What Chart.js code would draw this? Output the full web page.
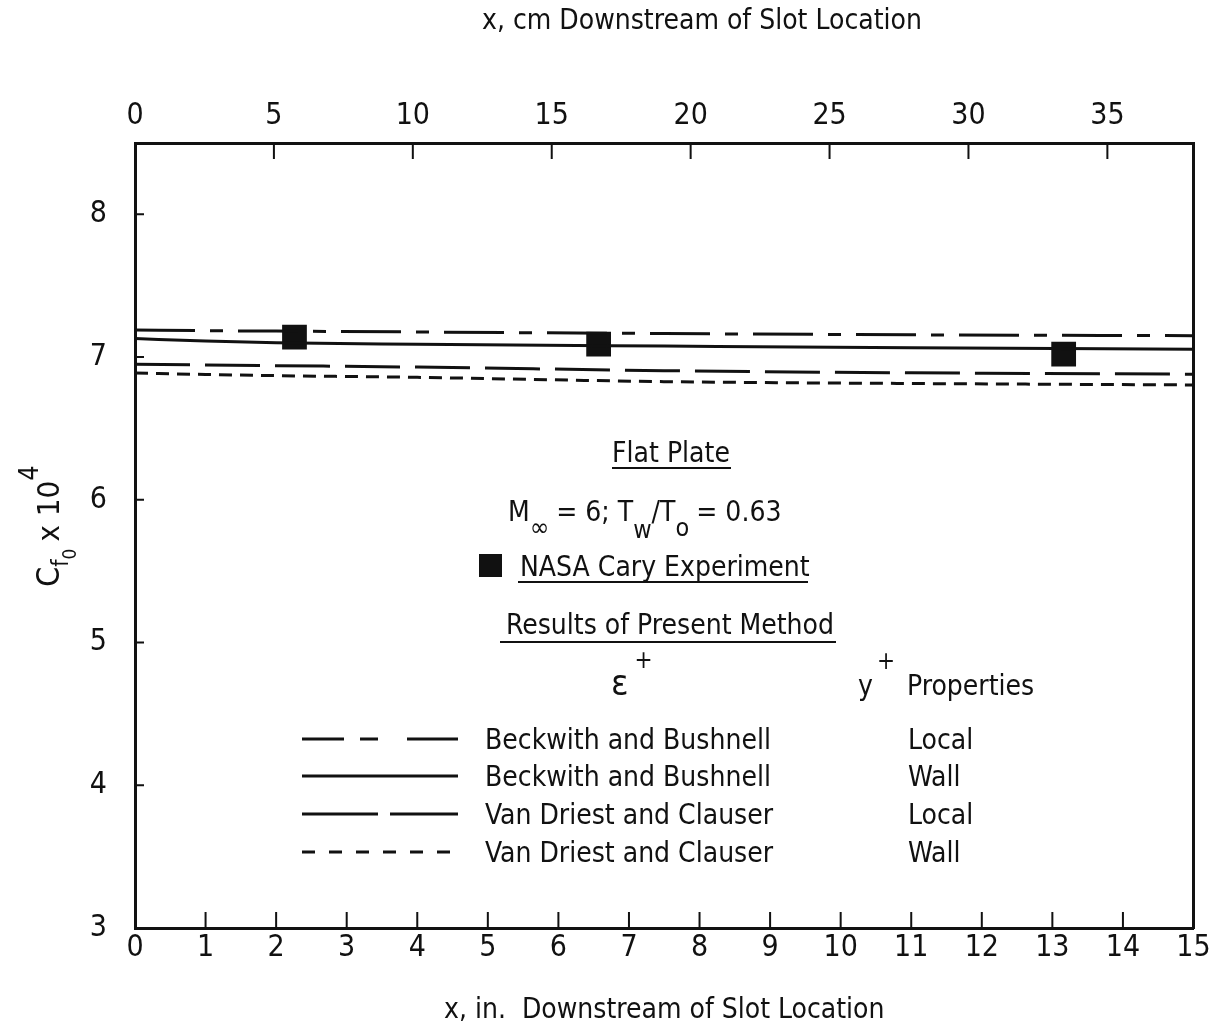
<!DOCTYPE html>
<html>
<head>
<meta charset="utf-8">
<title>Skin friction downstream of slot</title>
<script src="https://cdn.jsdelivr.net/npm/chart.js@4/dist/chart.umd.min.js"></script>
<style>
  html, body { margin: 0; padding: 0; background: #fff; }
  #c { display: block; }
</style>
</head>
<body>
<canvas id="c" width="1211" height="1035"></canvas>
<script>
// Stations along the plate (inches downstream of the slot) used by the computed curves
const xStations = [0, 1, 2, 4, 7.5, 11, 15];

// Cf0 x 10^4 for each computation
const bbLocal = [7.19, 7.185, 7.182, 7.176, 7.165, 7.156, 7.15];   // Beckwith & Bushnell, local properties
const bbWall  = [7.13, 7.112, 7.10, 7.09, 7.077, 7.065, 7.055];    // Beckwith & Bushnell, wall properties
const vdLocal = [6.95, 6.945, 6.94, 6.93, 6.905, 6.89, 6.88];      // Van Driest & Clauser, local properties
const vdWall  = [6.888, 6.878, 6.87, 6.858, 6.828, 6.815, 6.805];  // Van Driest & Clauser, wall properties

// NASA Cary experiment
const caryX  = [2.26, 6.57, 13.16];
const caryCf = [7.14, 7.09, 7.02];

// Axis ticks
const inchTicks = [0, 1, 2, 3, 4, 5, 6, 7, 8, 9, 10, 11, 12, 13, 14, 15];
const cmTicks   = [0, 5, 10, 15, 20, 25, 30, 35];
const cfTicks   = [3, 4, 5, 6, 7, 8];

// Key table rows
const epsModels = ['Beckwith and Bushnell', 'Beckwith and Bushnell', 'Van Driest and Clauser', 'Van Driest and Clauser'];
const yPlusProps = ['Local', 'Wall', 'Local', 'Wall'];

const INK = '#111111';
const FONT = '"Liberation Sans Narrow", "DejaVu Sans Condensed", "Roboto Condensed", sans-serif';
const CM_PER_IN = 2.54;
const TXT = 28;

const curveDash = [
  [60, 15, 13, 15],
  [],
  [55, 15],
  [13, 8]
];
const keyDash = [
  [42, 16, 18, 29, 60],
  [],
  [76, 12, 80],
  [13, 14]
];

const pts = (xs, ys) => xs.map((x, i) => ({ x, y: ys[i] }));
const curve = (label, ys, dash) => ({
  label,
  data: pts(xStations, ys),
  showLine: true,
  borderColor: INK,
  borderWidth: 3,
  borderDash: dash,
  pointRadius: 0,
  fill: false,
  cubicInterpolationMode: 'monotone',
  xAxisID: 'x',
  yAxisID: 'y'
});

const fixedTicks = (vals) => (scale) => { scale.ticks = vals.map(v => ({ value: v })); };
const noOverhang = (s) => { s.paddingLeft = 0; s.paddingRight = 0; s.paddingTop = 0; s.paddingBottom = 0; };

// Tick marks drawn on the inside of the frame
const innerTicks = {
  id: 'innerTicks',
  afterDraw(chart) {
    const { ctx, chartArea: a, scales } = chart;
    ctx.save();
    ctx.strokeStyle = INK;
    ctx.lineWidth = 2;
    ctx.beginPath();
    inchTicks.slice(1, -1).forEach(v => {
      const px = scales.x.getPixelForValue(v);
      ctx.moveTo(px, a.bottom); ctx.lineTo(px, a.bottom - 16);
    });
    cmTicks.slice(1).forEach(v => {
      const px = scales.x2.getPixelForValue(v);
      ctx.moveTo(px, a.top); ctx.lineTo(px, a.top + 16);
    });
    cfTicks.slice(1).forEach(v => {
      const py = scales.y.getPixelForValue(v);
      ctx.moveTo(a.left, py); ctx.lineTo(a.left + 9, py);
    });
    ctx.stroke();
    ctx.restore();
  }
};

// Draw a run of text pieces (with sub/superscripts) on one baseline
function drawRuns(ctx, x, y, parts, align) {
  let total = 0;
  parts.forEach(p => { ctx.font = `${p.s}px ${FONT}`; p.w = ctx.measureText(p.t).width; total += p.w + (p.gap || 0); });
  let cx = align === 'center' ? x - total / 2 : x;
  ctx.textAlign = 'left';
  ctx.textBaseline = 'alphabetic';
  parts.forEach(p => {
    ctx.font = `${p.s}px ${FONT}`;
    ctx.fillText(p.t, cx, y + (p.dy || 0));
    cx += p.w + (p.gap || 0);
  });
  return total;
}

function underline(ctx, x1, x2, y) {
  ctx.save();
  ctx.strokeStyle = INK;
  ctx.lineWidth = 2;
  ctx.setLineDash([]);
  ctx.beginPath(); ctx.moveTo(x1, y); ctx.lineTo(x2, y); ctx.stroke();
  ctx.restore();
}

// Titles, the flat-plate caption and the key table
const captions = {
  id: 'captions',
  afterDraw(chart) {
    const { ctx } = chart;
    ctx.save();
    ctx.fillStyle = INK;

    // top axis title
    ctx.font = `${TXT}px ${FONT}`;
    ctx.textAlign = 'center';
    ctx.textBaseline = 'middle';
    ctx.fillText('x, cm Downstream of Slot Location', 702, 22);

    // y axis title, rotated
    ctx.save();
    ctx.translate(59, 526);
    ctx.rotate(-Math.PI / 2);
    drawRuns(ctx, 0, 0, [
      { t: 'C', s: 32 },
      { t: 'f', s: 23, dy: 9 },
      { t: '0', s: 19, dy: 17, gap: 7 },
      { t: 'x 10', s: 31 },
      { t: '4', s: 27, dy: -21 }
    ], 'center');
    ctx.restore();

    // caption block
    ctx.font = `${TXT}px ${FONT}`;
    ctx.textAlign = 'center';
    ctx.textBaseline = 'alphabetic';
    ctx.fillText('Flat Plate', 671, 462);
    underline(ctx, 612, 731, 468);

    drawRuns(ctx, 508, 521, [
      { t: 'M', s: TXT },
      { t: '\u221E', s: 26, dy: 15, gap: 7 },
      { t: '= 6; T', s: TXT },
      { t: 'w', s: 25, dy: 17 },
      { t: '/T', s: TXT },
      { t: 'o', s: 25, dy: 15, gap: 7 },
      { t: '= 0.63', s: TXT }
    ], 'left');

    ctx.fillRect(479, 554, 23, 23);
    drawRuns(ctx, 520, 576, [{ t: 'NASA Cary Experiment', s: TXT }], 'left');
    underline(ctx, 518, 808, 582);

    drawRuns(ctx, 506, 634, [{ t: 'Results of Present Method', s: TXT }], 'left');
    underline(ctx, 500, 836, 642);

    drawRuns(ctx, 611, 695, [{ t: '\u03B5', s: 36, gap: 6 }, { t: '+', s: 24, dy: -27 }], 'left');
    drawRuns(ctx, 858, 695, [{ t: 'y', s: TXT, gap: 4 }, { t: '+', s: 24, dy: -26, gap: 12 }, { t: 'Properties', s: TXT }], 'left');

    const rowY = [739, 776, 814, 852];
    rowY.forEach((ry, i) => {
      ctx.save();
      ctx.strokeStyle = INK;
      ctx.lineWidth = 3;
      ctx.setLineDash(keyDash[i]);
      ctx.beginPath(); ctx.moveTo(302, ry); ctx.lineTo(458, ry); ctx.stroke();
      ctx.restore();
      drawRuns(ctx, 485, ry + 10, [{ t: epsModels[i], s: TXT }], 'left');
      drawRuns(ctx, 908, ry + 10, [{ t: yPlusProps[i], s: TXT }], 'left');
    });

    ctx.restore();
  }
};

const tickFont = { family: FONT, size: 30 };

new Chart(document.getElementById('c'), {
  type: 'scatter',
  data: {
    datasets: [
      curve('Beckwith and Bushnell, Local', bbLocal, curveDash[0]),
      curve('Beckwith and Bushnell, Wall', bbWall, curveDash[1]),
      curve('Van Driest and Clauser, Local', vdLocal, curveDash[2]),
      curve('Van Driest and Clauser, Wall', vdWall, curveDash[3]),
      {
        label: 'NASA Cary Experiment',
        data: pts(caryX, caryCf),
        showLine: false,
        pointStyle: 'rect',
        pointRadius: 17.5,
        backgroundColor: INK,
        borderColor: INK,
        borderWidth: 0,
        xAxisID: 'x',
        yAxisID: 'y'
      }
    ]
  },
  options: {
    responsive: false,
    animation: false,
    layout: { padding: 0 },
    plugins: { legend: { display: false }, tooltip: { enabled: false } },
    scales: {
      x: {
        type: 'linear', position: 'bottom',
        min: inchTicks[0], max: inchTicks[inchTicks.length - 1],
        afterBuildTicks: fixedTicks(inchTicks),
        afterFit: s => { s.height = 107; noOverhang(s); },
        grid: { display: false, drawTicks: false },
        border: { display: true, color: INK, width: 3 },
        ticks: { color: INK, font: tickFont, padding: 2, maxRotation: 0, autoSkip: false },
        title: { display: true, text: 'x, in.  Downstream of Slot Location', color: INK, font: { family: FONT, size: TXT }, padding: { top: 0, bottom: 7 } }
      },
      x2: {
        type: 'linear', position: 'top',
        min: 0, max: inchTicks[inchTicks.length - 1] * CM_PER_IN,
        afterBuildTicks: fixedTicks(cmTicks),
        afterFit: s => { s.height = 143; noOverhang(s); },
        grid: { display: false, drawTicks: false },
        border: { display: true, color: INK, width: 3 },
        ticks: { color: INK, font: tickFont, padding: 9, maxRotation: 0, autoSkip: false }
      },
      y: {
        type: 'linear', position: 'left',
        min: 3, max: 8.5,
        afterBuildTicks: fixedTicks(cfTicks),
        afterFit: s => { s.width = 135; noOverhang(s); },
        grid: { display: false, drawTicks: false },
        border: { display: true, color: INK, width: 3 },
        ticks: { color: INK, font: tickFont, padding: 28, autoSkip: false }
      },
      y2: {
        type: 'linear', position: 'right',
        min: 3, max: 8.5,
        afterFit: s => { s.width = 16; noOverhang(s); },
        grid: { display: false, drawTicks: false },
        border: { display: true, color: INK, width: 3 },
        ticks: { display: false }
      }
    }
  },
  plugins: [innerTicks, captions]
});
</script>
</body>
</html>
